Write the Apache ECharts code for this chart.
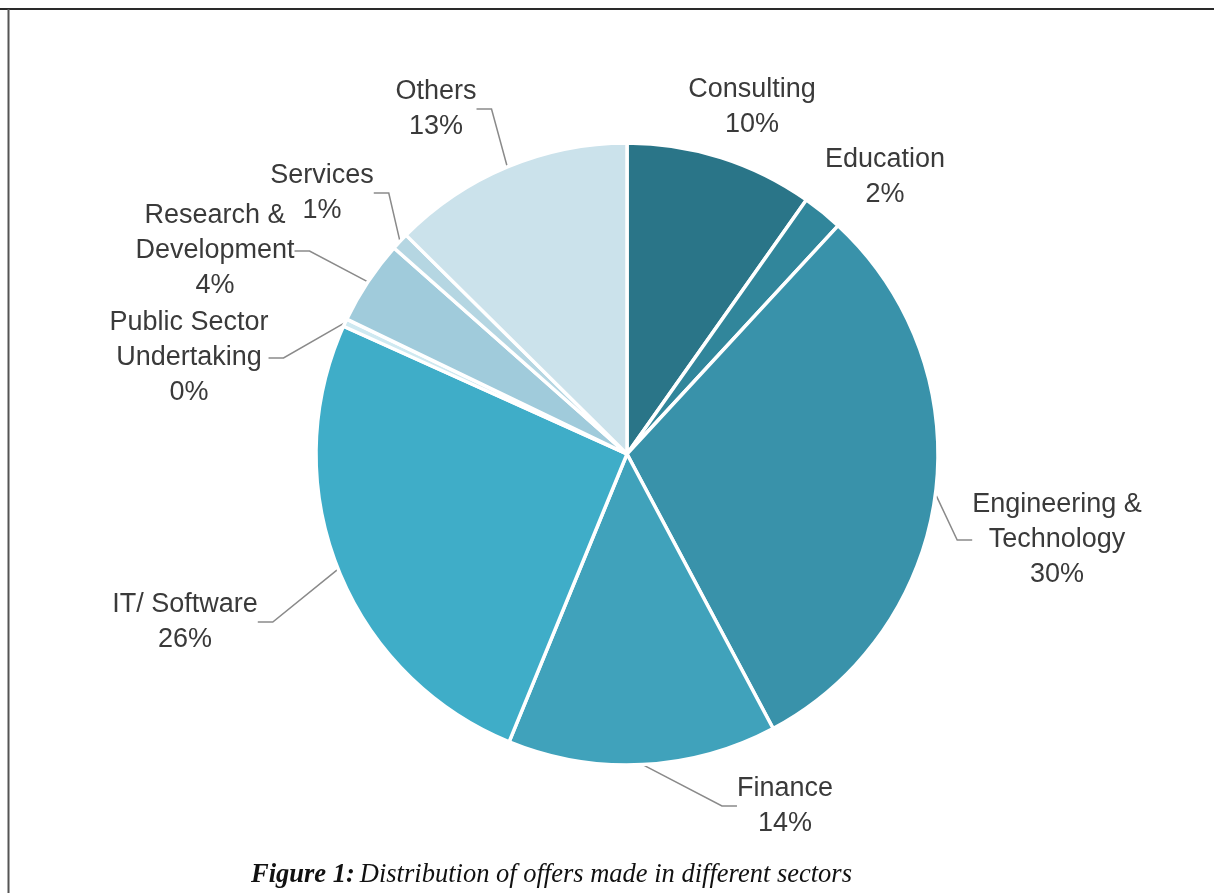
<!DOCTYPE html>
<html>
<head>
<meta charset="utf-8">
<script src="https://cdn.jsdelivr.net/npm/echarts@6/dist/echarts.min.js"></script>
<style>
html,body{margin:0;padding:0;background:#fff;}
#chart{width:1214px;height:893px;}
</style>
</head>
<body>
<div id="chart"></div>
<script>
// Data
const categories = ['Consulting', 'Education', 'Engineering &\nTechnology', 'Finance', 'IT/ Software', 'Public Sector\nUndertaking', 'Research &\nDevelopment', 'Services', 'Others'];
const values = [9.8, 2.1, 30.4, 14, 25.6, 0.4, 4.4, 0.9, 12.6];
const colors = ['#2a7588', '#31869b', '#3992aa', '#40a2bb', '#3fadc8', '#cfe9f1', '#a0cbdb', '#b5d6e2', '#cbe2eb'];
const showLeader = [false, false, true, true, true, true, true, true, true];
// label centres (layout only)
const labelPos = [[752, 107], [885, 177], [1057, 540], [785, 806], [185, 622], [189, 358], [215, 251], [322, 193], [436, 109]];
const caption = 'Distribution of offers made in different sectors';

const chart = echarts.init(document.getElementById('chart'), null, {renderer: 'canvas'});
chart.setOption({
  animation: false,
  backgroundColor: '#fff',
  title: {
    text: '{b|Figure 1:} {i|' + caption + '}',
    left: 246,
    top: 857,
    textStyle: {
      rich: {
        b: {fontFamily: 'Liberation Serif', fontStyle: 'italic', fontWeight: 'bold', fontSize: 26.5, color: '#111'},
        i: {fontFamily: 'Liberation Serif', fontStyle: 'italic', fontWeight: 'normal', fontSize: 26.5, color: '#111'}
      }
    }
  },
  graphic: [
    {type: 'line', shape: {x1: 0, y1: 9, x2: 1214, y2: 9}, style: {stroke: '#2a2a2a', lineWidth: 2}},
    {type: 'line', shape: {x1: 8.5, y1: 9, x2: 8.5, y2: 893}, style: {stroke: '#555', lineWidth: 2}}
  ],
  series: [{
    type: 'pie',
    center: [627, 454],
    radius: [0, 311],
    startAngle: 90,
    clockwise: true,
    silent: true,
    data: categories.map((c, i) => ({
      name: c,
      value: values[i],
      itemStyle: {color: colors[i]},
      labelLine: {show: showLeader[i]}
    })),
    itemStyle: {borderColor: '#fff', borderWidth: 3.5},
    label: {
      show: true,
      position: 'outside',
      formatter: p => p.name + '\n' + Math.round(p.value) + '%',
      fontFamily: 'Liberation Sans',
      fontSize: 27,
      lineHeight: 35,
      color: '#3a3a3a'
    },
    labelLine: {show: true, length: 15, length2: 15, lineStyle: {color: '#8a8a8a', width: 1.5}},
    labelLayout: function (params) {
      const p = labelPos[params.dataIndex];
      return {x: p[0], y: p[1], align: 'center', verticalAlign: 'middle'};
    }
  }]
});
</script>
</body>
</html>
